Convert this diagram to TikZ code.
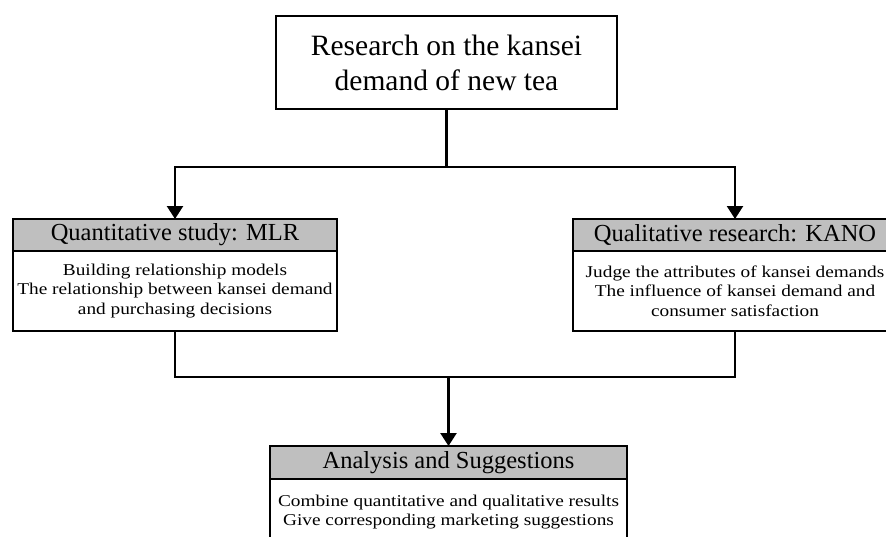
\documentclass[tikz,border=0pt]{standalone}
\usepackage{fontspec}
\setmainfont{Liberation Serif}
\newfontfamily\stretchedserif[FakeStretch=1.17]{Liberation Serif}
\usetikzlibrary{arrows.meta}
\usetikzlibrary{positioning}

\tikzset{
  headbox/.style={draw, line width=2.8pt, fill=black!25, outer sep=0pt, inner sep=0pt,
    minimum width=324pt, minimum height=32pt, font=\fontsize{24.5}{28}\selectfont},
  bodybox/.style={draw, line width=2.8pt, outer sep=0pt, inner sep=0pt, align=center,
    minimum width=324pt, minimum height=80pt, font=\stretchedserif\fontsize{16.5}{19.5}\selectfont},
  link/.style={line width=2.4pt},
  arrowlink/.style={link, -{Triangle[width=16pt,length=13pt]}}
}

\begin{document}
\begin{tikzpicture}[x=1pt,y=1pt]
\useasboundingbox (0,0) rectangle (886,-536);

% title
\node[draw, line width=2.8pt, outer sep=0pt, minimum width=341pt, minimum height=93pt, align=center,
  font=\fontsize{29.5}{35}\selectfont] (topic) at (446.5,-62.5) {Research on the kansei\\demand of new tea};

% two studies
\node[headbox] (quantHead) at (175,-235) {Quantitative study: MLR};
\node[bodybox, below=0pt of quantHead] (quantBody) {Building relationship models\\The relationship between kansei demand\\and purchasing decisions};

\node[headbox] (qualHead) at (735,-235) {Qualitative research: KANO};
\node[bodybox, below=0pt of qualHead] (qualBody) {Judge the attributes of kansei demands\\The influence of kansei demand and\\consumer satisfaction};

% summary
\node[headbox, minimum width=357pt, minimum height=33pt] (sumHead) at (448.5,-462.5) {Analysis and Suggestions};
\node[bodybox, minimum width=357pt, minimum height=66pt, below=0pt of sumHead] (sumBody) {Combine quantitative and qualitative results\\Give corresponding marketing suggestions};

% connectors
\draw[link] (topic.south) -- ++(0,-58) coordinate (fork);
\draw[arrowlink] (fork) -| (quantHead.north);
\draw[arrowlink] (fork) -| (qualHead.north);
\draw[link] (quantBody.south) -- ++(0,-46) coordinate (merge) -| (qualBody.south);
\draw[arrowlink] (merge -| sumHead.north) -- (sumHead.north);
\end{tikzpicture}
\end{document}
